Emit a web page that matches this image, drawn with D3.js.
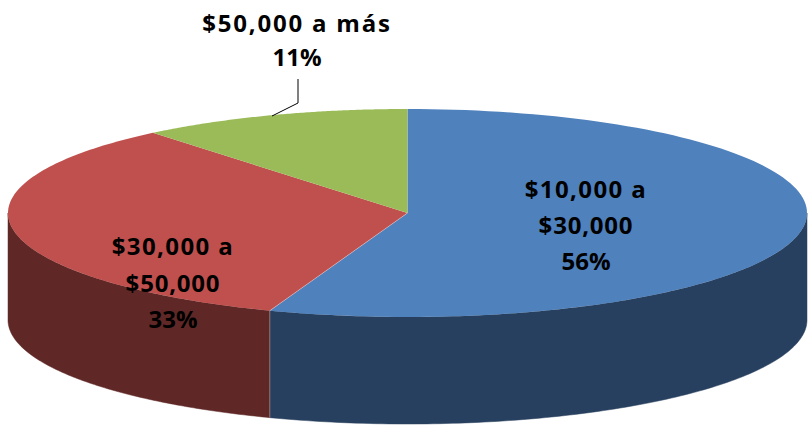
<!DOCTYPE html>
<html><head><meta charset="utf-8">
<script src="https://cdn.jsdelivr.net/npm/d3@7/dist/d3.min.js"></script>
<style>html,body{margin:0;padding:0;background:#fff}svg{display:block}</style>
</head><body><svg id="c" width="809" height="425"></svg>
<script>
const categories = ["$10,000 a|$30,000", "$30,000 a|$50,000", "$50,000 a más"];
const values = [55.6, 33.4, 11];
const labels = ["56%", "33%", "11%"];
const topColors = ["#4f81bd", "#c0504d", "#9bbb59"];
const sideColors = ["#28405f", "#5f2826"];

const cx = 407.5, cy = 213, rx = 399.5, ry = 104, depth = 107;
const svg = d3.select("#c");
const pie = d3.pie().sort(null).value(d => d)(values);
const ex = d3.scaleLinear().domain([0, 1]).range([0, rx]);
const ey = d3.scaleLinear().domain([0, 1]).range([0, ry]);
const px = a => cx + ex(Math.sin(a));
const py = a => cy - ey(Math.cos(a));
const line = d3.line();

function arcPts(a0, a1) {
  const n = 120;
  return d3.range(n + 1).map(i => a0 + (a1 - a0) * i / n);
}
const clip = (a0, a1) => [Math.max(a0, Math.PI / 2), Math.min(a1, 3 * Math.PI / 2)];
pie.forEach((s, i) => {
  const [a0, a1] = clip(s.startAngle, s.endAngle);
  if (a1 <= a0) return;
  const angs = arcPts(a0, a1);
  const pts = angs.map(a => [px(a), py(a)]).concat(angs.slice().reverse().map(a => [px(a), py(a) + depth]));
  svg.append("path").attr("d", line(pts) + "Z").attr("fill", sideColors[i]).attr("stroke", sideColors[i]).attr("stroke-width", 0.5);
});
pie.forEach((s, i) => {
  const angs = arcPts(s.startAngle, s.endAngle);
  const pts = [[cx, cy]].concat(angs.map(a => [px(a), py(a)]));
  svg.append("path").attr("d", line(pts) + "Z").attr("fill", topColors[i]);
});
// thin pale seams where the blue and red slices meet
const seam = pie[0].endAngle;
svg.append("path").attr("d", line([[cx, cy], [px(seam), py(seam)], [px(seam), py(seam) + depth]]))
  .attr("fill", "none").attr("stroke", "#fff").attr("stroke-opacity", 0.4).attr("stroke-width", 0.8);
// leader
svg.append("path").attr("d", line([[272, 116], [298, 103], [298, 79]]))
  .attr("fill", "none").attr("stroke", "#000").attr("stroke-width", 1);

function txt(x, y, s, sp) {
  svg.append("text").attr("x", x).attr("y", y).attr("text-anchor", "middle")
    .attr("font-family", "'Open Sans', sans-serif").attr("font-weight", 700).attr("font-size", 24)
    .attr("letter-spacing", sp).attr("dominant-baseline", "middle").attr("fill", "#000").text(s);
}
const labelPos = [[586, 191.5, 227.5, 263.5], [173, 248.5, 285.5, 321.5]];
categories.forEach((c, i) => {
  if (i < 2) {
    const [x, a, b, d] = labelPos[i];
    const parts = c.split("|");
    txt(x, a, parts[0], 1.4); txt(x, b, parts[1], 0.8); txt(x, d, labels[i], 0);
  }
});
txt(297, 25.5, categories[2], 1.8);
txt(297, 59.5, labels[2], 0);
</script></body></html>
